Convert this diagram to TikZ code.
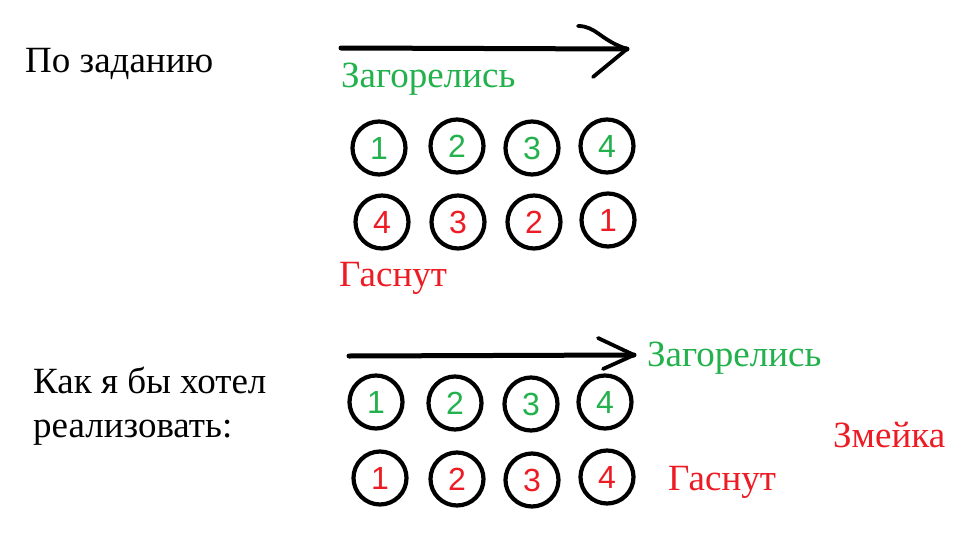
\documentclass[tikz,border=0pt]{standalone}
\usepackage{fontspec}
\setmainfont{Liberation Serif}
\newfontfamily\digitfont{Liberation Sans}
\definecolor{pgreen}{HTML}{22B14C}
\definecolor{pred}{HTML}{ED1C24}
\begin{document}
\begin{tikzpicture}[x=1pt,y=-1pt,
  lbl/.style={anchor=base west, inner sep=0pt, font=\fontsize{37}{44}\selectfont},
  lamp/.style={circle, draw=black, line width=4.2pt, minimum size=53pt, inner sep=0pt,
    font=\digitfont\fontsize{32}{32}\selectfont},
  on/.style={lamp, text=pgreen},
  off/.style={lamp, text=pred},
  shaft/.style={line width=5pt, line cap=round},
  head/.style={line width=3.8pt, line cap=round, line join=round}]
\useasboundingbox (0,0) rectangle (966,554);
\fill[white] (0,0) rectangle (966,554);

% top part
\node[lbl] (t1) at (25,72) {По заданию};
\coordinate (as1) at (341,48);
\coordinate (ae1) at (627,49);
\draw[shaft] (as1) -- (ae1);
\draw[head] (578,26) .. controls (596,26) and (600,40) .. (ae1) -- (593,77);
\node[lbl, text=pgreen] (g1) at (341,87) {Загорелись};

\node[on] (a1) at (379,148) {1};
\node[on] (a2) at (457,146) {2};
\node[on] (a3) at (532,148) {3};
\node[on] (a4) at (607,146) {4};
\node[off] (b1) at (382,222) {4};
\node[off] (b2) at (458,222) {3};
\node[off] (b3) at (534,222) {2};
\node[off] (b4) at (608,220) {1};
\node[lbl, text=pred] (r1) at (339,286) {Гаснут};

% bottom part
\node[lbl] (t2) at (33,393) {Как я бы хотел};
\node[lbl] (t3) at (33,437) {реализовать:};
\coordinate (as2) at (349,356);
\coordinate (ae2) at (634,355);
\draw[shaft] (as2) -- (ae2);
\draw[head] (598,338) -- (ae2) -- (603,369);
\node[lbl, text=pgreen] (g2) at (647,366) {Загорелись};

\node[on] (c1) at (376,402) {1};
\node[on] (c2) at (455,403) {2};
\node[on] (c3) at (531,404) {3};
\node[on] (c4) at (605,402) {4};
\node[off] (d1) at (380,478) {1};
\node[off] (d2) at (457,479) {2};
\node[off] (d3) at (532,480) {3};
\node[off] (d4) at (607,477) {4};
\node[lbl, text=pred] (r2) at (668,490) {Гаснут};
\node[lbl, text=pred] (z) at (833,447) {Змейка};
\end{tikzpicture}
\end{document}
